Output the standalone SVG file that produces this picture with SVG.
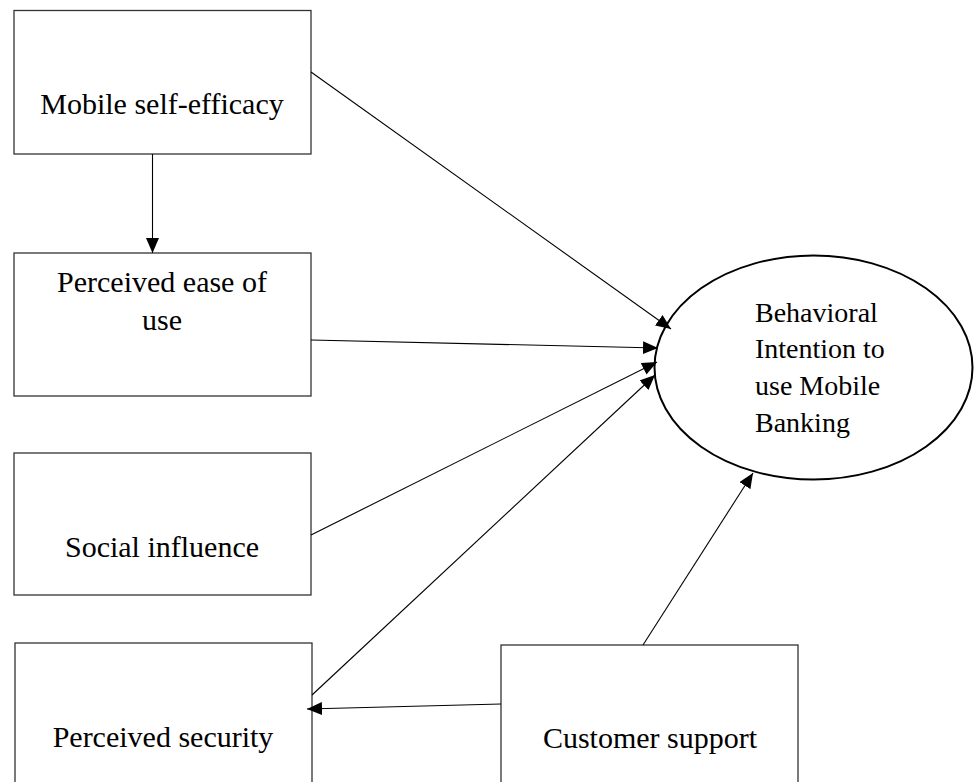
<svg xmlns="http://www.w3.org/2000/svg" width="974" height="782" viewBox="0 0 974 782" font-family="Liberation Serif, Times New Roman, DejaVu Serif, serif">
<style>
.box{fill:#fff;stroke:#333;stroke-width:1.3}
.c{text-anchor:middle}
.ln{stroke:#000;stroke-width:1.1;fill:none;marker-end:url(#ah)}
</style>
<defs>
<marker id="ah" markerUnits="userSpaceOnUse" markerWidth="16" markerHeight="14" refX="15" refY="6.5" orient="auto">
<path d="M0,0 L15,6.5 L0,13 Z" fill="#000"/>
</marker>
</defs>
<rect width="974" height="782" fill="#fff"/>
<g font-family="Liberation Serif, serif" font-size="30" fill="#000">
<g id="mse"><rect class="box" x="14" y="10.5" width="297" height="143.5"/><text class="c" x="162" y="114" font-family="Liberation Serif, serif">Mobile self-efficacy</text></g>
<g id="peou"><rect class="box" x="14" y="253" width="297" height="143"/><text class="c" x="162" y="292" font-family="Liberation Serif, serif">Perceived ease of</text><text class="c" x="162" y="330" font-family="Liberation Serif, serif">use</text></g>
<g id="si"><rect class="box" x="14" y="453" width="297" height="142"/><text class="c" x="162" y="557" font-family="Liberation Serif, serif">Social influence</text></g>
<g id="ps"><rect class="box" x="15" y="643" width="297" height="150"/><text class="c" x="163" y="747" font-family="Liberation Serif, serif">Perceived security</text></g>
<g id="cs"><rect class="box" x="501" y="645" width="297" height="150"/><text class="c" x="650" y="748" font-family="Liberation Serif, serif">Customer support</text></g>
<g id="bi"><ellipse cx="813.5" cy="367.5" rx="159" ry="112" fill="#fff" stroke="#000" stroke-width="2"/>
<g font-size="28" font-family="Liberation Serif, serif"><text x="755" y="322">Behavioral</text><text x="755" y="358">Intention to</text><text x="755" y="395">use Mobile</text><text x="755" y="432">Banking</text></g></g>
</g>
<g id="connectors">
<line class="ln" x1="152.5" y1="154" x2="152.5" y2="253"/>
<line class="ln" x1="311" y1="72" x2="671" y2="329"/>
<line class="ln" x1="311" y1="340" x2="658" y2="348"/>
<line class="ln" x1="311" y1="535" x2="657" y2="362"/>
<line class="ln" x1="312" y1="695" x2="655" y2="375"/>
<line class="ln" x1="643" y1="645" x2="753" y2="473"/>
<line class="ln" x1="501" y1="704" x2="307" y2="709"/>
</g>
</svg>
